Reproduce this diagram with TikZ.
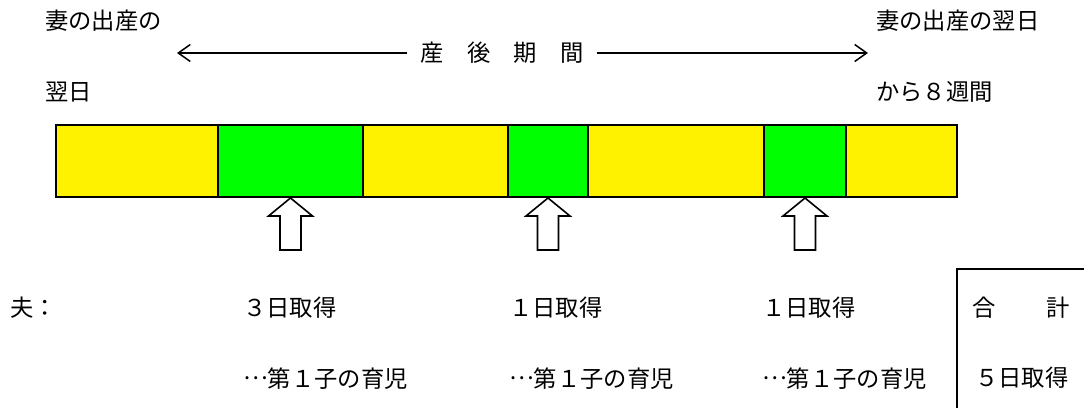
\documentclass[tikz,border=0pt]{standalone}
\usepackage{fontspec}
\newfontfamily\jp{Noto Sans CJK JP}
\newcommand\dotsjp{\raisebox{0.32em}{…}}
\usetikzlibrary{arrows.meta}
\begin{document}
\begin{tikzpicture}[x=1pt,y=-1pt,
  txt/.style={font=\jp\fontsize{23.3}{23.3}\selectfont, inner sep=0pt, anchor=west},
  cell/.style={draw=black, line width=2pt, minimum height=72pt, inner sep=0pt, anchor=north west},
  yel/.style={cell, fill=yellow},
  grn/.style={cell, fill=green},
  spanline/.style={line width=1.5pt, -{Straight Barb[length=12pt,width=17pt,line width=1.5pt]}},
  hollowup/.pic={\draw[line width=1.6pt, line join=miter] (0,0) -- (22,18) -- (10.5,18) -- (10.5,52) -- (-10.5,52) -- (-10.5,18) -- (-22,18) -- cycle;}
]
\useasboundingbox (0,0) rectangle (1084,407);
% header texts
\node[txt] (t1) at (45,21) {妻の出産の};
\node[txt] (t2) at (45,92) {翌日};
\node[txt] (t3) at (876,21) {妻の出産の翌日};
\node[txt] (t4) at (876,92) {から８週間};
% span arrow
\node[txt, anchor=center, inner xsep=13pt] (lbl) at (502,53) {産　後　期　間};
\coordinate (pl) at (177,53);
\coordinate (pr) at (868,53);
\draw[spanline] (lbl.west) -- (pl);
\draw[spanline] (lbl.east) -- (pr);
% bar
\node[yel, minimum width=162pt] (c1) at (55,124) {};
\node[grn, minimum width=145pt] (g1) at (217,124) {};
\node[yel, minimum width=145pt] (c2) at (362,124) {};
\node[grn, minimum width=80pt]  (g2) at (507,124) {};
\node[yel, minimum width=176pt] (c3) at (587,124) {};
\node[grn, minimum width=82pt]  (g3) at (763,124) {};
\node[yel, minimum width=111pt] (c4) at (845,124) {};
% hollow arrows
\pic at (g1.south) {hollowup};
\pic at (g2.south) {hollowup};
\pic at (g3.south) {hollowup};
% bottom texts
\node[txt] (h) at (10,308) {夫：};
\node[txt] (a1) at (243,308) {３日取得};
\node[txt] (a2) at (509,308) {１日取得};
\node[txt] (a3) at (762,308) {１日取得};
\node[txt, text depth=0.12em] (b1) at (243,378) {\dotsjp 第１子の育児};
\node[txt, text depth=0.12em] (b2) at (509,378) {\dotsjp 第１子の育児};
\node[txt, text depth=0.12em] (b3) at (762,378) {\dotsjp 第１子の育児};
% total box
\draw[line width=2pt] (957,410) -- (957,269) -- (1090,269);
\node[txt] (s1) at (972,308) {合};
\node[txt] (s2) at (1046,308) {計};
\node[txt] (s3) at (975,378) {５日取得};
\end{tikzpicture}
\end{document}
